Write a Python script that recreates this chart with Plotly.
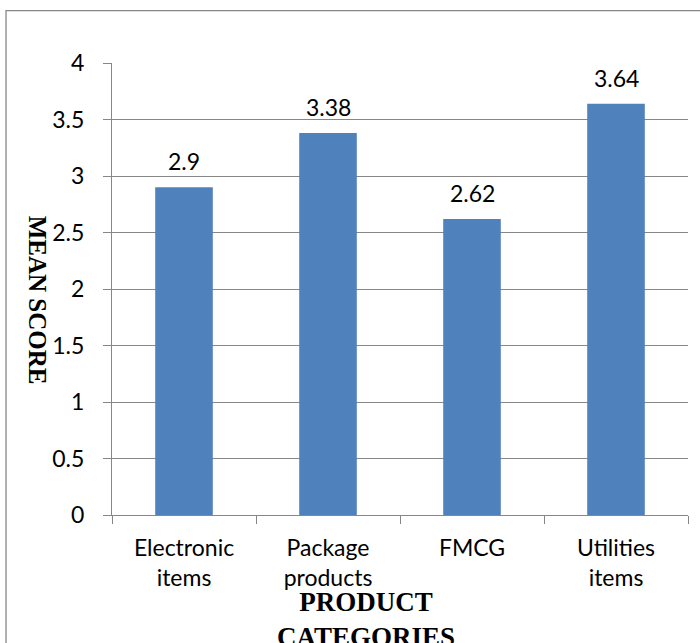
import plotly.graph_objects as go

categories = ["Electronic<br>items", "Package<br>products", "FMCG", "Utilities<br>items"]
mean_scores = [2.9, 3.38, 2.62, 3.64]
label_texts = ["2.9", "3.38", "2.62", "3.64"]
y_ticks = [0, 0.5, 1, 1.5, 2, 2.5, 3, 3.5, 4]
y_tick_labels = ["0", "0.5", "1", "1.5", "2", "2.5", "3", "3.5", "4"]

BAR = "#4F81BD"
GRID = "#878787"
FONT = "Lato"
FS = 23

fig = go.Figure()
fig.add_trace(go.Bar(
    x=categories, y=mean_scores, marker=dict(color=BAR, line=dict(width=0)),
    width=0.4, hoverinfo="skip",
))

for c, v, t in zip(categories, mean_scores, label_texts):
    fig.add_annotation(x=c, y=v, text=t, showarrow=False, xref="x", yref="y",
                       yanchor="bottom", yshift=10,
                       font=dict(family=FONT, size=FS, color="#000"))

fig.add_annotation(x=0.441, y=-0.232, xref="paper", yref="paper",
                   text="<b>PRODUCT<br>CATEGORIES</b>", showarrow=False,
                   font=dict(family="Liberation Serif", size=27, color="#000"),
                   xanchor="center", yanchor="middle")
fig.add_annotation(x=-0.130, y=0.476, xref="paper", yref="paper",
                   text="<b>MEAN SCORE</b>", showarrow=False, textangle=90,
                   font=dict(family="Liberation Serif", size=25, color="#000"),
                   xanchor="center", yanchor="middle")

fig.add_shape(type="rect", xref="paper", yref="paper",
              x0=-0.184, x1=1.06, y0=-0.4, y1=1.116,
              line=dict(color=GRID, width=1.3), fillcolor="rgba(0,0,0,0)", layer="below")

fig.update_layout(
    width=700, height=643,
    margin=dict(l=112, r=12, t=63, b=128),
    paper_bgcolor="white", plot_bgcolor="white",
    showlegend=False,
    font=dict(family=FONT, size=FS, color="#000"),
    bargap=0.6,
)
fig.update_xaxes(
    type="category", tickson="boundaries", ticks="outside", ticklen=8,
    tickcolor=GRID, tickwidth=1.3, showline=True, linecolor=GRID, linewidth=1.3,
    showgrid=False, tickfont=dict(family=FONT, size=FS, color="#000"),
    ticklabelstandoff=12,
)
fig.update_yaxes(
    range=[0, 4], tickvals=y_ticks, ticktext=y_tick_labels,
    ticks="outside", ticklen=8, tickcolor=GRID, tickwidth=1.3,
    showline=True, linecolor=GRID, linewidth=1.3,
    showgrid=True, gridcolor=GRID, gridwidth=1.3, zeroline=False,
    tickfont=dict(family=FONT, size=FS, color="#000"),
    ticklabelstandoff=14,
)

fig.write_html("out.html")
